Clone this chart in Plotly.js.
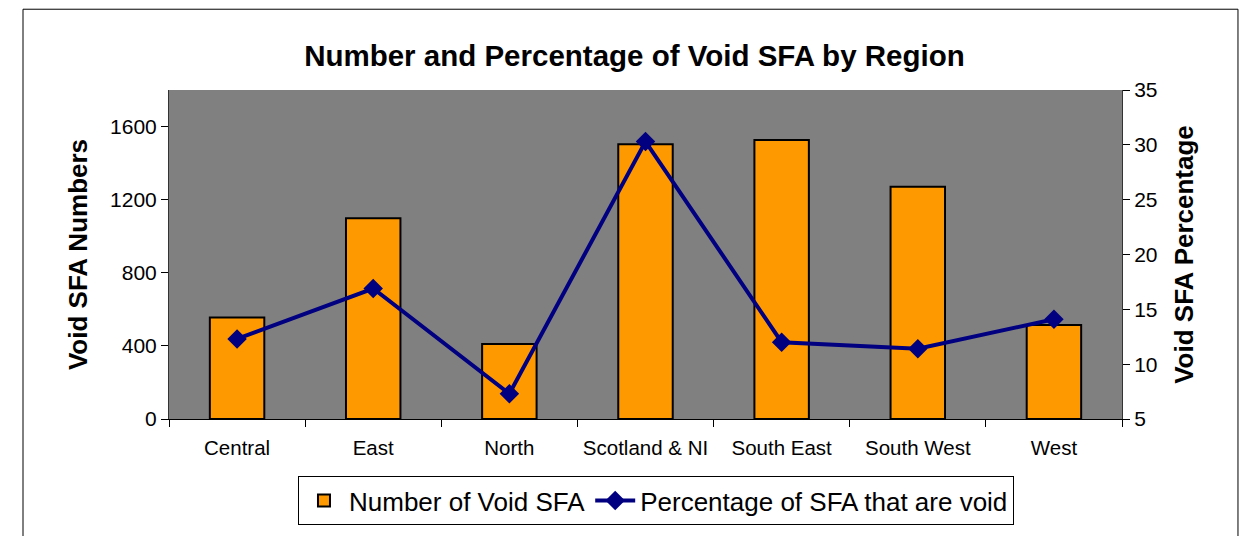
<!DOCTYPE html>
<html>
<head>
<meta charset="utf-8">
<script src="https://cdn.plot.ly/plotly-3.0.1.min.js"></script>
<style>
html,body{margin:0;padding:0;background:#fff;}
#chart{width:1244px;height:536px;}
</style>
</head>
<body>
<div id="chart"></div>
<script>
const regions = ["Central", "East", "North", "Scotland & NI", "South East", "South West", "West"];
const voidNumbers = [555, 1098, 410, 1503, 1526, 1271, 514];
const voidPercentage = [12.3, 16.9, 7.3, 30.3, 12.0, 11.4, 14.1];
const leftTicks = [0, 400, 800, 1200, 1600];
const rightTicks = [5, 10, 15, 20, 25, 30, 35];

const FONT = "Liberation Sans, Arial, sans-serif";

const traces = [
  {
    type: "bar",
    name: "Number of Void SFA",
    x: regions,
    y: voidNumbers,
    width: 0.4,
    marker: {color: "#FF9900", line: {color: "#000000", width: 2}},
    yaxis: "y"
  },
  {
    type: "scatter",
    mode: "lines+markers",
    name: "Percentage of SFA that are void",
    x: regions,
    y: voidPercentage,
    line: {color: "#000080", width: 4},
    marker: {symbol: "diamond", size: 15, color: "#000080"},
    yaxis: "y2"
  }
];

const layout = {
  width: 1244,
  height: 536,
  margin: {l: 169, r: 122, t: 90, b: 116},
  paper_bgcolor: "#ffffff",
  plot_bgcolor: "#808080",
  font: {family: FONT, color: "#000000"},
  showlegend: true,
  title: {
    text: "<b>Number and Percentage of Void SFA by Region</b>",
    font: {family: FONT, size: 29.5, color: "#000"},
    x: 0.51, xref: "container", xanchor: "center",
    y: 0.897, yref: "container", yanchor: "middle"
  },
  xaxis: {
    type: "category",
    showgrid: false,
    showline: true, linecolor: "#000", linewidth: 1,
    ticks: "outside", ticklen: 7, tickcolor: "#000",
    tickson: "boundaries",
    tickangle: 0,
    ticklabelstandoff: 10,
    tickfont: {family: FONT, size: 20.5, color: "#000"},
    zeroline: false,
    fixedrange: true
  },
  yaxis: {
    range: [0, 1800],
    tickvals: leftTicks,
    showgrid: false,
    zeroline: false,
    showline: true, linecolor: "#333", linewidth: 1,
    ticks: "outside", ticklen: 7, tickcolor: "#000",
    tickfont: {family: FONT, size: 21, color: "#000"},
    title: {text: "<b>Void SFA Numbers</b>", font: {family: FONT, size: 26, color: "#000"}, standoff: 14}
  },
  yaxis2: {
    overlaying: "y",
    side: "right",
    range: [5, 35],
    tickvals: rightTicks,
    showgrid: false,
    zeroline: false,
    showline: true, linecolor: "#333", linewidth: 1,
    ticks: "outside", ticklen: 7, tickcolor: "#000",
    tickfont: {family: FONT, size: 21, color: "#000"},
    title: {text: "<b>Void SFA Percentage</b>", font: {family: FONT, size: 26, color: "#000"}, standoff: 18}
  },
  legend: {
    orientation: "h",
    x: 0.511, xanchor: "center",
    y: -0.17, yanchor: "top",
    bgcolor: "#ffffff",
    bordercolor: "#000",
    borderwidth: 1,
    font: {family: FONT, size: 26, color: "#000"},
    itemwidth: 40,
    tracegroupgap: 0
  },
  shapes: [
    {type: "rect", xref: "paper", yref: "paper",
     x0: -0.1532, x1: 1.1217, y0: -0.5, y1: 1.2455,
     line: {color: "#000", width: 1}, fillcolor: "rgba(0,0,0,0)", layer: "above"}
  ]
};

Plotly.newPlot("chart", traces, layout, {displayModeBar: false, staticPlot: true});
</script>
</body>
</html>
